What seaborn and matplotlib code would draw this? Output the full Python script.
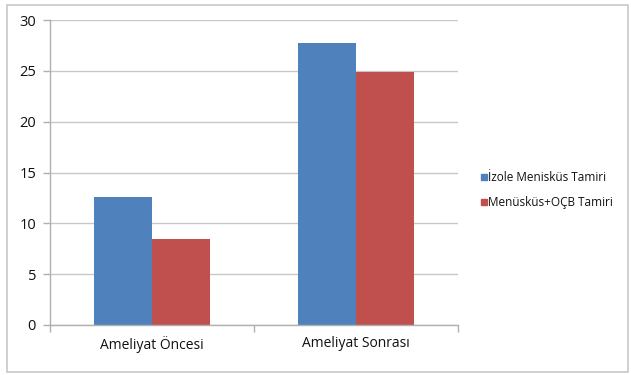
import matplotlib
matplotlib.use("Agg")
import matplotlib.pyplot as plt
import seaborn as sns
import pandas as pd
from matplotlib.patches import Rectangle
from matplotlib.lines import Line2D

categories = ["Ameliyat Öncesi", "Ameliyat Sonrası"]
series_names = ["İzole Menisküs Tamiri", "Menüsküs+OÇB Tamiri"]
izole_values = [12.6, 27.7]
ocb_values = [8.5, 24.9]
y_ticks = [0, 5, 10, 15, 20, 25, 30]

colors = ["#4F81BD", "#C0504D"]

df = pd.DataFrame({
    "Kategori": categories * 2,
    "Seri": [series_names[0]] * 2 + [series_names[1]] * 2,
    "Değer": izole_values + ocb_values,
})

sns.set_theme(style="white")
plt.rcParams["font.family"] = ["Open Sans", "DejaVu Sans"]

fig = plt.figure(figsize=(6.31, 3.75), dpi=100)
ax = fig.add_axes([50 / 631, 1 - 325 / 375, (458 - 50) / 631, (325 - 20) / 375])

sns.barplot(data=df, x="Kategori", y="Değer", hue="Seri", order=categories,
            hue_order=series_names, palette=colors, width=0.57, gap=0,
            saturation=1, ax=ax, legend=False, linewidth=0)

ax.set_xlim(-0.5, 1.5)
ax.set_ylim(0, 30)
ax.set_yticks(y_ticks)
ax.set_yticklabels([str(t) for t in y_ticks], fontsize=10.5, color="#111111")
ax.set_xticks([0, 1])
ax.set_xticklabels(categories, fontsize=10, color="#111111")
ax.set_xlabel("")
ax.set_ylabel("")
ax.yaxis.grid(True, color="#c8c8c8", linewidth=1)
ax.set_axisbelow(True)
for s in ["top", "right"]:
    ax.spines[s].set_visible(False)
for s in ["left", "bottom"]:
    ax.spines[s].set_color("#b0b0b0")
    ax.spines[s].set_linewidth(1)
ax.tick_params(axis="y", which="major", length=5, color="#b0b0b0", width=1, pad=5, left=True)
ax.tick_params(axis="x", which="major", length=0, pad=8)
ax.set_xticks([-0.5, 0.5, 1.5], minor=True)
ax.tick_params(axis="x", which="minor", length=5, color="#b0b0b0", width=1, bottom=True)

handles = [Line2D([0], [0], marker="s", linestyle="", markersize=5,
                  markerfacecolor=c, markeredgecolor=c) for c in colors]
fig.legend(handles, series_names, loc="upper left", bbox_to_anchor=(476 / 631, 1 - 165 / 375),
           frameon=False, fontsize=8.5, handlelength=0.4, handletextpad=0.15,
           labelspacing=1.0, borderpad=0, labelcolor="#111111")

fig.patches.append(Rectangle((7 / 631, 3 / 375), 621 / 631, 367 / 375,
                             transform=fig.transFigure, fill=False,
                             edgecolor="#c8c8c8", linewidth=1.2))

fig.savefig("out.png", dpi=100)
